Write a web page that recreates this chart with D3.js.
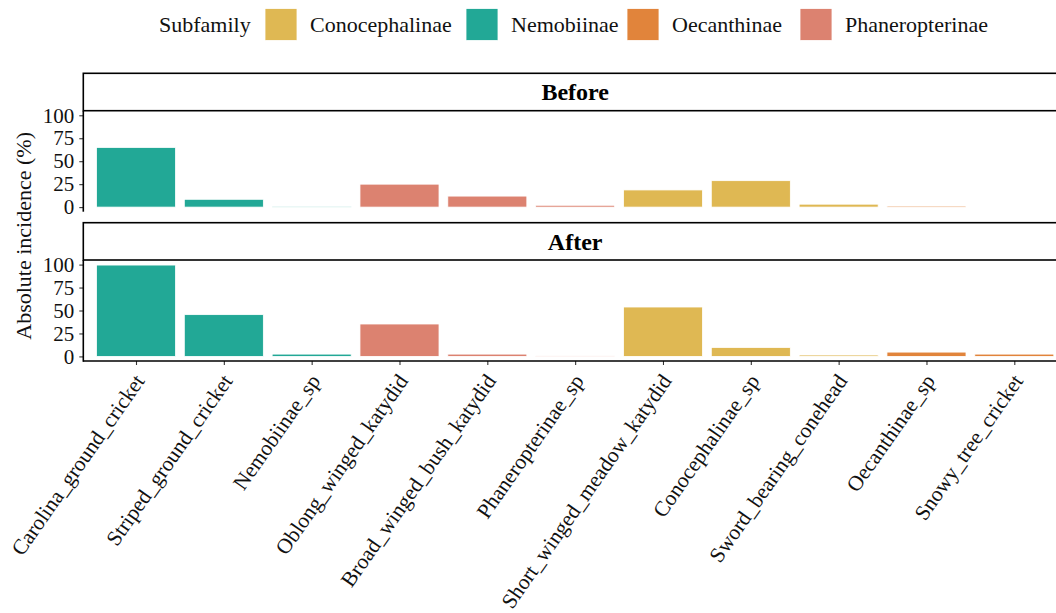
<!DOCTYPE html>
<html>
<head>
<meta charset="utf-8">
<script src="https://cdn.jsdelivr.net/npm/d3@7"></script>
<style>
  html, body { margin: 0; padding: 0; background: #fff; }
  svg { display: block; font-family: "Liberation Serif", "Times New Roman", serif; }
</style>
</head>
<body>
<svg id="chart" width="1056" height="613"></svg>
<script>
// Species on the x axis, in plotting order
const species = [
  "Carolina_ground_cricket", "Striped_ground_cricket", "Nemobiinae_sp",
  "Oblong_winged_katydid", "Broad_winged_bush_katydid", "Phaneropterinae_sp",
  "Short_winged_meadow_katydid", "Conocephalinae_sp", "Sword_bearing_conehead",
  "Oecanthinae_sp", "Snowy_tree_cricket"
];
// Subfamily of each species
const subfamilyOf = [
  "Nemobiinae", "Nemobiinae", "Nemobiinae",
  "Phaneropterinae", "Phaneropterinae", "Phaneropterinae",
  "Conocephalinae", "Conocephalinae", "Conocephalinae",
  "Oecanthinae", "Oecanthinae"
];
// Absolute incidence (%) per period
const beforeValues = [65, 8.5, 0.4, 25, 12, 2, 18.7, 28.8, 3.2, 1.2, 0];
const afterValues  = [99.5, 45.5, 2.5, 35.3, 2.5, 0.5, 53.8, 9.8, 1.5, 4.7, 2.5];
const periods = ["Before", "After"];
const subfamilies = ["Conocephalinae", "Nemobiinae", "Oecanthinae", "Phaneropterinae"];
const subfamilyColors = ["#DFB853", "#22A896", "#E1843B", "#DC8270"];
const yTicks = [0, 25, 50, 75, 100];

const svg = d3.select("#chart");
const color = d3.scaleOrdinal().domain(subfamilies).range(subfamilyColors);

// Panel geometry
const panelLeft = 83.3, panelRight = 1067;
const panels = [
  { name: periods[0], values: beforeValues, stripTop: 73.3, top: 110.7, bottom: 211.7 },
  { name: periods[1], values: afterValues,  stripTop: 222.7, top: 260, bottom: 361 }
];

// Discrete x scale with 0.6 unit expansion on each side
const unit = (panelRight - panelLeft) / (species.length - 1 + 1.2);
const x = d3.scalePoint().domain(species)
  .range([panelLeft + 0.6 * unit, panelRight - 0.6 * unit]);
const barW = 0.9 * unit;

panels.forEach((p, pi) => {
  const y = d3.scaleLinear().domain([-5, 105]).range([p.bottom, p.top]);
  const g = svg.append("g");

  // strip
  g.append("rect")
    .attr("x", panelLeft).attr("y", p.stripTop)
    .attr("width", panelRight - panelLeft).attr("height", p.top - p.stripTop)
    .attr("fill", "#fff").attr("stroke", "#000").attr("stroke-width", 1.6);
  g.append("text")
    .attr("x", (panelLeft + panelRight) / 2)
    .attr("y", (p.stripTop + p.top) / 2)
    .attr("dy", "0.35em")
    .attr("text-anchor", "middle")
    .attr("font-weight", "bold")
    .attr("font-size", 24)
    .text(p.name);

  // bars
  g.selectAll("rect.bar")
    .data(species.map((s, i) => ({ s, v: p.values[i], f: subfamilyOf[i] })))
    .join("rect")
    .attr("class", "bar")
    .attr("x", d => x(d.s) - barW / 2)
    .attr("width", barW)
    .attr("y", d => y(d.v))
    .attr("height", d => y(0) - y(d.v))
    .attr("fill", d => color(d.f))
    .attr("stroke", "#fff")
    .attr("stroke-width", 0.8);

  // y axis
  const yAxis = g.append("g")
    .attr("transform", `translate(${panelLeft},0)`)
    .call(d3.axisLeft(y).tickValues(yTicks).tickSize(4).tickPadding(5));
  yAxis.select(".domain").remove();
  yAxis.selectAll(".tick line").attr("stroke", "#333").attr("stroke-width", 1.1);
  yAxis.selectAll(".tick text")
    .attr("font-family", "Liberation Serif, serif")
    .attr("font-size", 21).attr("fill", "#111");
  g.append("line")
    .attr("x1", panelLeft).attr("x2", panelLeft)
    .attr("y1", p.top).attr("y2", p.bottom + (pi === 1 ? 0.8 : 0))
    .attr("stroke", "#000").attr("stroke-width", 1.6);

  // x axis only under the last panel
  if (pi === panels.length - 1) {
    const xAxis = g.append("g")
      .attr("transform", `translate(0,${p.bottom})`)
      .call(d3.axisBottom(x).tickSize(4).tickSizeOuter(0));
    xAxis.select(".domain").remove();
    xAxis.selectAll(".tick line").attr("stroke", "#333").attr("stroke-width", 1.1);
    xAxis.selectAll(".tick text")
      .attr("font-family", "Liberation Serif, serif")
      .attr("font-size", 21.5).attr("fill", "#111")
      .attr("text-anchor", "end")
      .attr("dy", null)
      .attr("y", 0)
      .attr("transform", "translate(9,20) rotate(-55)");
    g.append("line")
      .attr("x1", panelLeft).attr("x2", panelRight)
      .attr("y1", p.bottom).attr("y2", p.bottom)
      .attr("stroke", "#000").attr("stroke-width", 1.6);
  }
});

// y axis title
svg.append("text")
  .attr("transform", `translate(31,${(panels[0].top + panels[1].bottom) / 2}) rotate(-90)`)
  .attr("text-anchor", "middle")
  .attr("font-size", 22)
  .attr("fill", "#111")
  .text("Absolute incidence (%)");

// legend
const legend = svg.append("g");
legend.append("text")
  .attr("x", 159).attr("y", 24).attr("dy", "0.35em")
  .attr("font-size", 22).attr("fill", "#111")
  .text("Subfamily");
const keyX = [265, 466, 627, 800];
subfamilies.forEach((s, i) => {
  legend.append("rect")
    .attr("x", keyX[i]).attr("y", 8.5)
    .attr("width", 32).attr("height", 32)
    .attr("fill", color(s)).attr("stroke", "#fff").attr("stroke-width", 0.8);
  legend.append("text")
    .attr("x", keyX[i] + 45).attr("y", 24).attr("dy", "0.35em")
    .attr("font-size", 22).attr("fill", "#111")
    .text(s);
});
</script>
</body>
</html>
